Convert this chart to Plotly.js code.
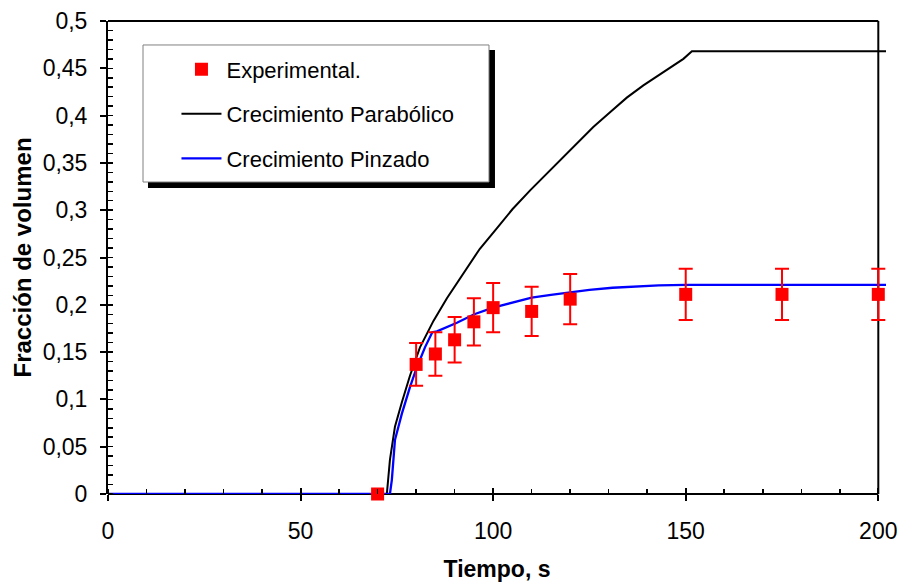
<!DOCTYPE html>
<html>
<head>
<meta charset="utf-8">
<script src="https://cdn.plot.ly/plotly-3.0.1.min.js"></script>
<style>html,body{margin:0;padding:0;background:#fff;}#chart{width:903px;height:588px;}</style>
</head>
<body>
<div id="chart"></div>
<script>
// Experimental data
var expTime = [70, 80, 85, 90, 95, 100, 110, 120, 150, 175, 200];
var expFrac = [0, 0.137, 0.148, 0.163, 0.182, 0.197, 0.193, 0.206, 0.211, 0.211, 0.211];
var expErr  = [0, 0.0225, 0.023, 0.024, 0.025, 0.026, 0.026, 0.0265, 0.027, 0.027, 0.027];

// Crecimiento Parabólico
var parabTime = [0, 72.4, 73.2, 74.5, 76.3, 78.4, 81, 84.5, 88, 92.3, 96.5, 101, 105, 109.6, 113.5, 117.4, 121, 126, 130.5, 134.7, 139, 143.4, 146.5, 149.4, 151.6, 202];
var parabFrac = [0, 0, 0.036, 0.071, 0.097, 0.125, 0.155, 0.183, 0.207, 0.234, 0.259, 0.281, 0.301, 0.321, 0.337, 0.352, 0.367, 0.388, 0.404, 0.419, 0.432, 0.444, 0.452, 0.460, 0.468, 0.468];

// Crecimiento Pinzado
var pinzTime = [0, 73.2, 73.7, 74.5, 76.3, 78.4, 80.2, 82.3, 84.2, 85.4, 90.6, 95.1, 100, 105, 110, 115, 120, 125, 131, 137, 143, 150, 202];
var pinzFrac = [0, 0, 0.015, 0.057, 0.085, 0.113, 0.134, 0.155, 0.171, 0.172, 0.181, 0.190, 0.197, 0.2025, 0.2075, 0.2105, 0.213, 0.2158, 0.218, 0.2195, 0.2205, 0.221, 0.221];

var seriesNames = ['Experimental.', 'Crecimiento Parabólico', 'Crecimiento Pinzado'];
var xTicks = [0, 50, 100, 150, 200];

var FONT = 'Liberation Sans, Arial, sans-serif';

var traces = [
  {
    x: parabTime, y: parabFrac, type: 'scatter', mode: 'lines',
    name: seriesNames[1], legendgroup: 'b', legendrank: 2,
    line: {color: '#000000', width: 2}
  },
  {
    x: pinzTime, y: pinzFrac, type: 'scatter', mode: 'lines',
    name: seriesNames[2], legendgroup: 'c', legendrank: 3,
    line: {color: '#0000ff', width: 2.3}
  },
  {
    x: expTime, y: expFrac, type: 'scatter', mode: 'markers',
    name: seriesNames[0], legendgroup: 'a', legendrank: 1,
    cliponaxis: false,
    marker: {symbol: 'square', size: 13, color: '#ff0000'},
    error_y: {type: 'data', array: expErr, visible: true, color: '#ff0000', thickness: 2, width: 7}
  },
  {
    // empty trace so the overlaid tick axis is drawn
    x: [], y: [], xaxis: 'x2', yaxis: 'y', type: 'scatter', mode: 'lines',
    showlegend: false, hoverinfo: 'skip'
  }
];

var layout = {
  width: 903, height: 588,
  margin: {l: 108, r: 17, t: 21, b: 94},
  paper_bgcolor: '#ffffff', plot_bgcolor: '#ffffff',
  separators: ',.',
  font: {family: FONT, color: '#000000', size: 22},
  showlegend: true,
  legend: {
    x: 0.088, y: 0.942, xanchor: 'left', yanchor: 'top',
    bgcolor: 'rgba(0,0,0,0)', borderwidth: 0,
    font: {family: FONT, size: 22, color: '#000000'},
    traceorder: 'grouped', tracegroupgap: 13, itemwidth: 40
  },
  xaxis: {
    range: [0, 202], showgrid: false, zeroline: false, showline: false,
    tickvals: xTicks, ticktext: xTicks.map(String),
    ticks: 'outside', ticklen: 6, tickwidth: 2, tickcolor: '#000',
    minor: {dtick: 10, ticks: 'inside', ticklen: 5, tickwidth: 1.5, tickcolor: '#000', showgrid: false},
    tickfont: {family: FONT, size: 23, color: '#000'},
    ticklabelstandoff: 10,
    title: {text: '<b>Tiempo, s</b>', font: {family: FONT, size: 23, color: '#000'}, standoff: 18},
    fixedrange: true
  },
  xaxis2: {
    range: [0, 202], overlaying: 'x', anchor: 'y', side: 'bottom',
    showgrid: false, zeroline: false, showline: false, showticklabels: false,
    tickvals: xTicks, ticks: 'inside', ticklen: 6, tickwidth: 2, tickcolor: '#000'
  },
  yaxis: {
    range: [0, 0.5], dtick: 0.05, showgrid: false, zeroline: false,
    showline: true, linecolor: '#000', linewidth: 2,
    ticks: 'outside', ticklen: 6, tickwidth: 2, tickcolor: '#000',
    minor: {dtick: 0.01, ticks: 'inside', ticklen: 5, tickwidth: 1.5, tickcolor: '#000', showgrid: false},
    tickfont: {family: FONT, size: 23, color: '#000'},
    ticklabelstandoff: 8,
    title: {text: '<b>Fracción de volumen</b>', font: {family: FONT, size: 24, color: '#000'}, standoff: 4},
    fixedrange: true
  },
  shapes: [
    // plot frame: bottom axis line, top and right borders
    {type: 'line', xref: 'x', yref: 'paper', x0: 0, x1: 200, y0: 0, y1: 0, line: {color: '#000', width: 2}, layer: 'below'},
    {type: 'line', xref: 'x', yref: 'paper', x0: 0, x1: 200, y0: 1, y1: 1, line: {color: '#000', width: 2}, layer: 'below'},
    {type: 'line', xref: 'x', yref: 'paper', x0: 200, x1: 200, y0: 0, y1: 1, line: {color: '#000', width: 2}, layer: 'below'},
    // legend shadow and box
    {type: 'rect', xref: 'paper', yref: 'paper', x0: 0.0514, x1: 0.4974, y0: 0.647, y1: 0.9387, fillcolor: '#000', line: {width: 0}, layer: 'above'},
    {type: 'rect', xref: 'paper', yref: 'paper', x0: 0.045, x1: 0.4897, y0: 0.6596, y1: 0.9493, fillcolor: '#fff', line: {color: '#808080', width: 1}, layer: 'above'}
  ]
};

Plotly.newPlot('chart', traces, layout, {displayModeBar: false, staticPlot: true});
</script>
</body>
</html>
